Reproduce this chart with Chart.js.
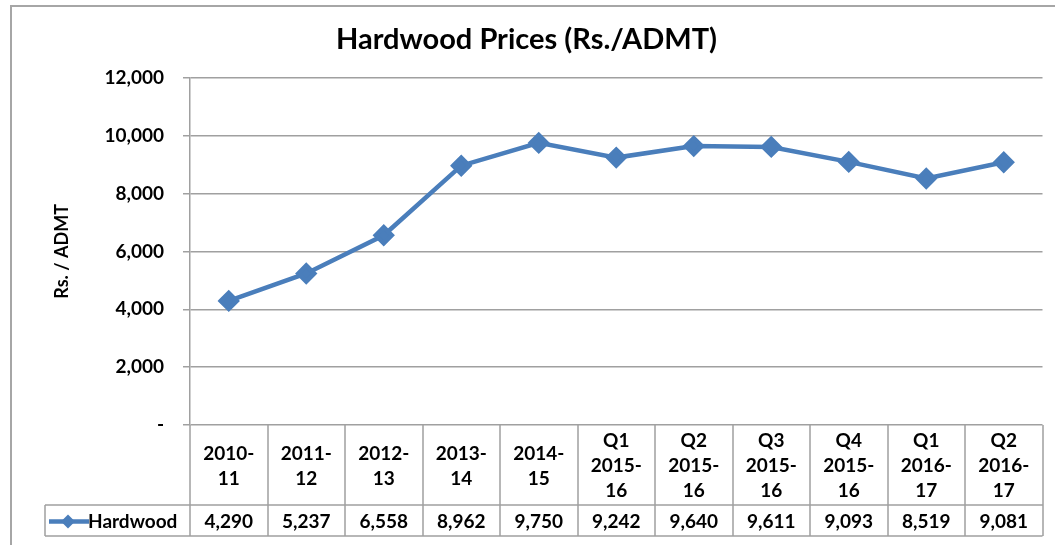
<!DOCTYPE html>
<html>
<head>
<meta charset="utf-8">
<script src="https://cdn.jsdelivr.net/npm/chart.js@4.4.1/dist/chart.umd.min.js"></script>
<style>
  html, body { margin: 0; padding: 0; background: #fff; }
  #wrap { width: 1055px; height: 545px; position: relative; }
</style>
</head>
<body>
<div id="wrap"><canvas id="chart"></canvas></div>
<script>
// ── Data ────────────────────────────────────────────────────────────────
const categories = [
  ['2010-', '11'], ['2011-', '12'], ['2012-', '13'], ['2013-', '14'], ['2014-', '15'],
  ['Q1', '2015-', '16'], ['Q2', '2015-', '16'], ['Q3', '2015-', '16'], ['Q4', '2015-', '16'],
  ['Q1', '2016-', '17'], ['Q2', '2016-', '17']
];
const seriesName = 'Hardwood';
const hardwood = [4290, 5237, 6558, 8962, 9750, 9242, 9640, 9611, 9093, 8519, 9081];
const yTicks = [0, 2000, 4000, 6000, 8000, 10000, 12000];

const FONT = 'Lato, "Open Sans", sans-serif';
const BLUE = '#4a7ebb';
const GRID = '#a0a0a0';

const fmt = v => v.toLocaleString('en-US');

// Frame, data table below the axis and its legend key
const tablePlugin = {
  id: 'dataTable',
  beforeDraw(chart) {
    const { ctx } = chart;
    ctx.save();
    ctx.strokeStyle = '#a6a6a6';
    ctx.lineWidth = 2;
    ctx.beginPath();
    ctx.moveTo(11, 545); ctx.lineTo(11, 6); ctx.lineTo(1055, 6);
    ctx.stroke();
    ctx.restore();
  },
  afterDraw(chart) {
    const { ctx, chartArea: a, scales: { x } } = chart;
    const rowTop = 505, rowBot = 536, keyLeft = 45;
    const step = (a.right - a.left) / categories.length;

    ctx.save();
    ctx.strokeStyle = GRID;
    ctx.lineWidth = 1.5;
    ctx.beginPath();
    for (let i = 0; i <= categories.length; i++) {
      const xx = Math.round(a.left + i * step);
      ctx.moveTo(xx, a.bottom); ctx.lineTo(xx, rowBot);
    }
    ctx.moveTo(keyLeft, rowTop); ctx.lineTo(a.right, rowTop);
    ctx.moveTo(keyLeft, rowBot); ctx.lineTo(a.right, rowBot);
    ctx.moveTo(keyLeft, rowTop); ctx.lineTo(keyLeft, rowBot);
    ctx.stroke();

    // values
    const midY = (rowTop + rowBot) / 2 + 1;
    ctx.fillStyle = '#000';
    ctx.font = `bold 19px ${FONT}`;
    ctx.textAlign = 'center';
    ctx.textBaseline = 'middle';
    hardwood.forEach((v, i) => ctx.fillText(fmt(v), x.getPixelForValue(i), midY));

    // legend key
    ctx.strokeStyle = BLUE;
    ctx.lineWidth = 4.5;
    ctx.beginPath();
    ctx.moveTo(49, midY); ctx.lineTo(89, midY);
    ctx.stroke();
    ctx.fillStyle = BLUE;
    ctx.beginPath();
    ctx.moveTo(68, midY - 7); ctx.lineTo(75, midY); ctx.lineTo(68, midY + 7); ctx.lineTo(61, midY);
    ctx.closePath();
    ctx.fill();
    ctx.fillStyle = '#000';
    ctx.textAlign = 'left';
    ctx.fillText(seriesName, 88, midY);
    ctx.restore();
  }
};

new Chart(document.getElementById('chart'), {
  type: 'line',
  data: {
    labels: categories,
    datasets: [{
      label: seriesName,
      data: hardwood,
      borderColor: BLUE,
      backgroundColor: BLUE,
      borderWidth: 4.5,
      pointStyle: 'rectRot',
      pointRadius: 8,
      pointHoverRadius: 8,
      tension: 0,
    }],
  },
  options: {
    responsive: true,
    maintainAspectRatio: false,
    animation: false,
    layout: { padding: { left: 0, right: 2, top: 0, bottom: 0 } },
    scales: {
      x: {
        offset: true,
        grid: { display: false, drawTicks: false },
        border: { display: false },
        ticks: {
          color: '#000',
          font: { family: FONT, size: 19, weight: 'bold', lineHeight: 1.32 },
          maxRotation: 0,
          autoSkip: false,
          crossAlign: 'center',
          padding: 16,
        },
        afterFit: s => { s.height = 120; },
      },
      y: {
        min: 0,
        max: 12000,
        afterBuildTicks: s => { s.ticks = yTicks.map(v => ({ value: v })); },
        grid: { color: GRID, lineWidth: 1.5, tickLength: 7 },
        border: { color: GRID, width: 1.5 },
        ticks: {
          color: '#000',
          font: { family: FONT, size: 19, weight: 'bold' },
          padding: 19,
          callback: v => (v === 0 ? '-' : fmt(v)),
        },
        title: {
          display: true,
          text: 'Rs. / ADMT',
          color: '#000',
          font: { family: FONT, size: 18, weight: 'bold', lineHeight: 1.2 },
          padding: { top: 51, bottom: 0 },
        },
        afterFit: s => { s.width = 190; },
      },
    },
    plugins: {
      legend: { display: false },
      tooltip: { enabled: false },
      title: {
        display: true,
        text: 'Hardwood Prices (Rs./ADMT)',
        color: '#000',
        font: { family: FONT, size: 29, weight: 'bold', lineHeight: 1.2 },
        padding: { top: 22, bottom: 21 },
      },
    },
  },
  plugins: [tablePlugin],
});
</script>
</body>
</html>
